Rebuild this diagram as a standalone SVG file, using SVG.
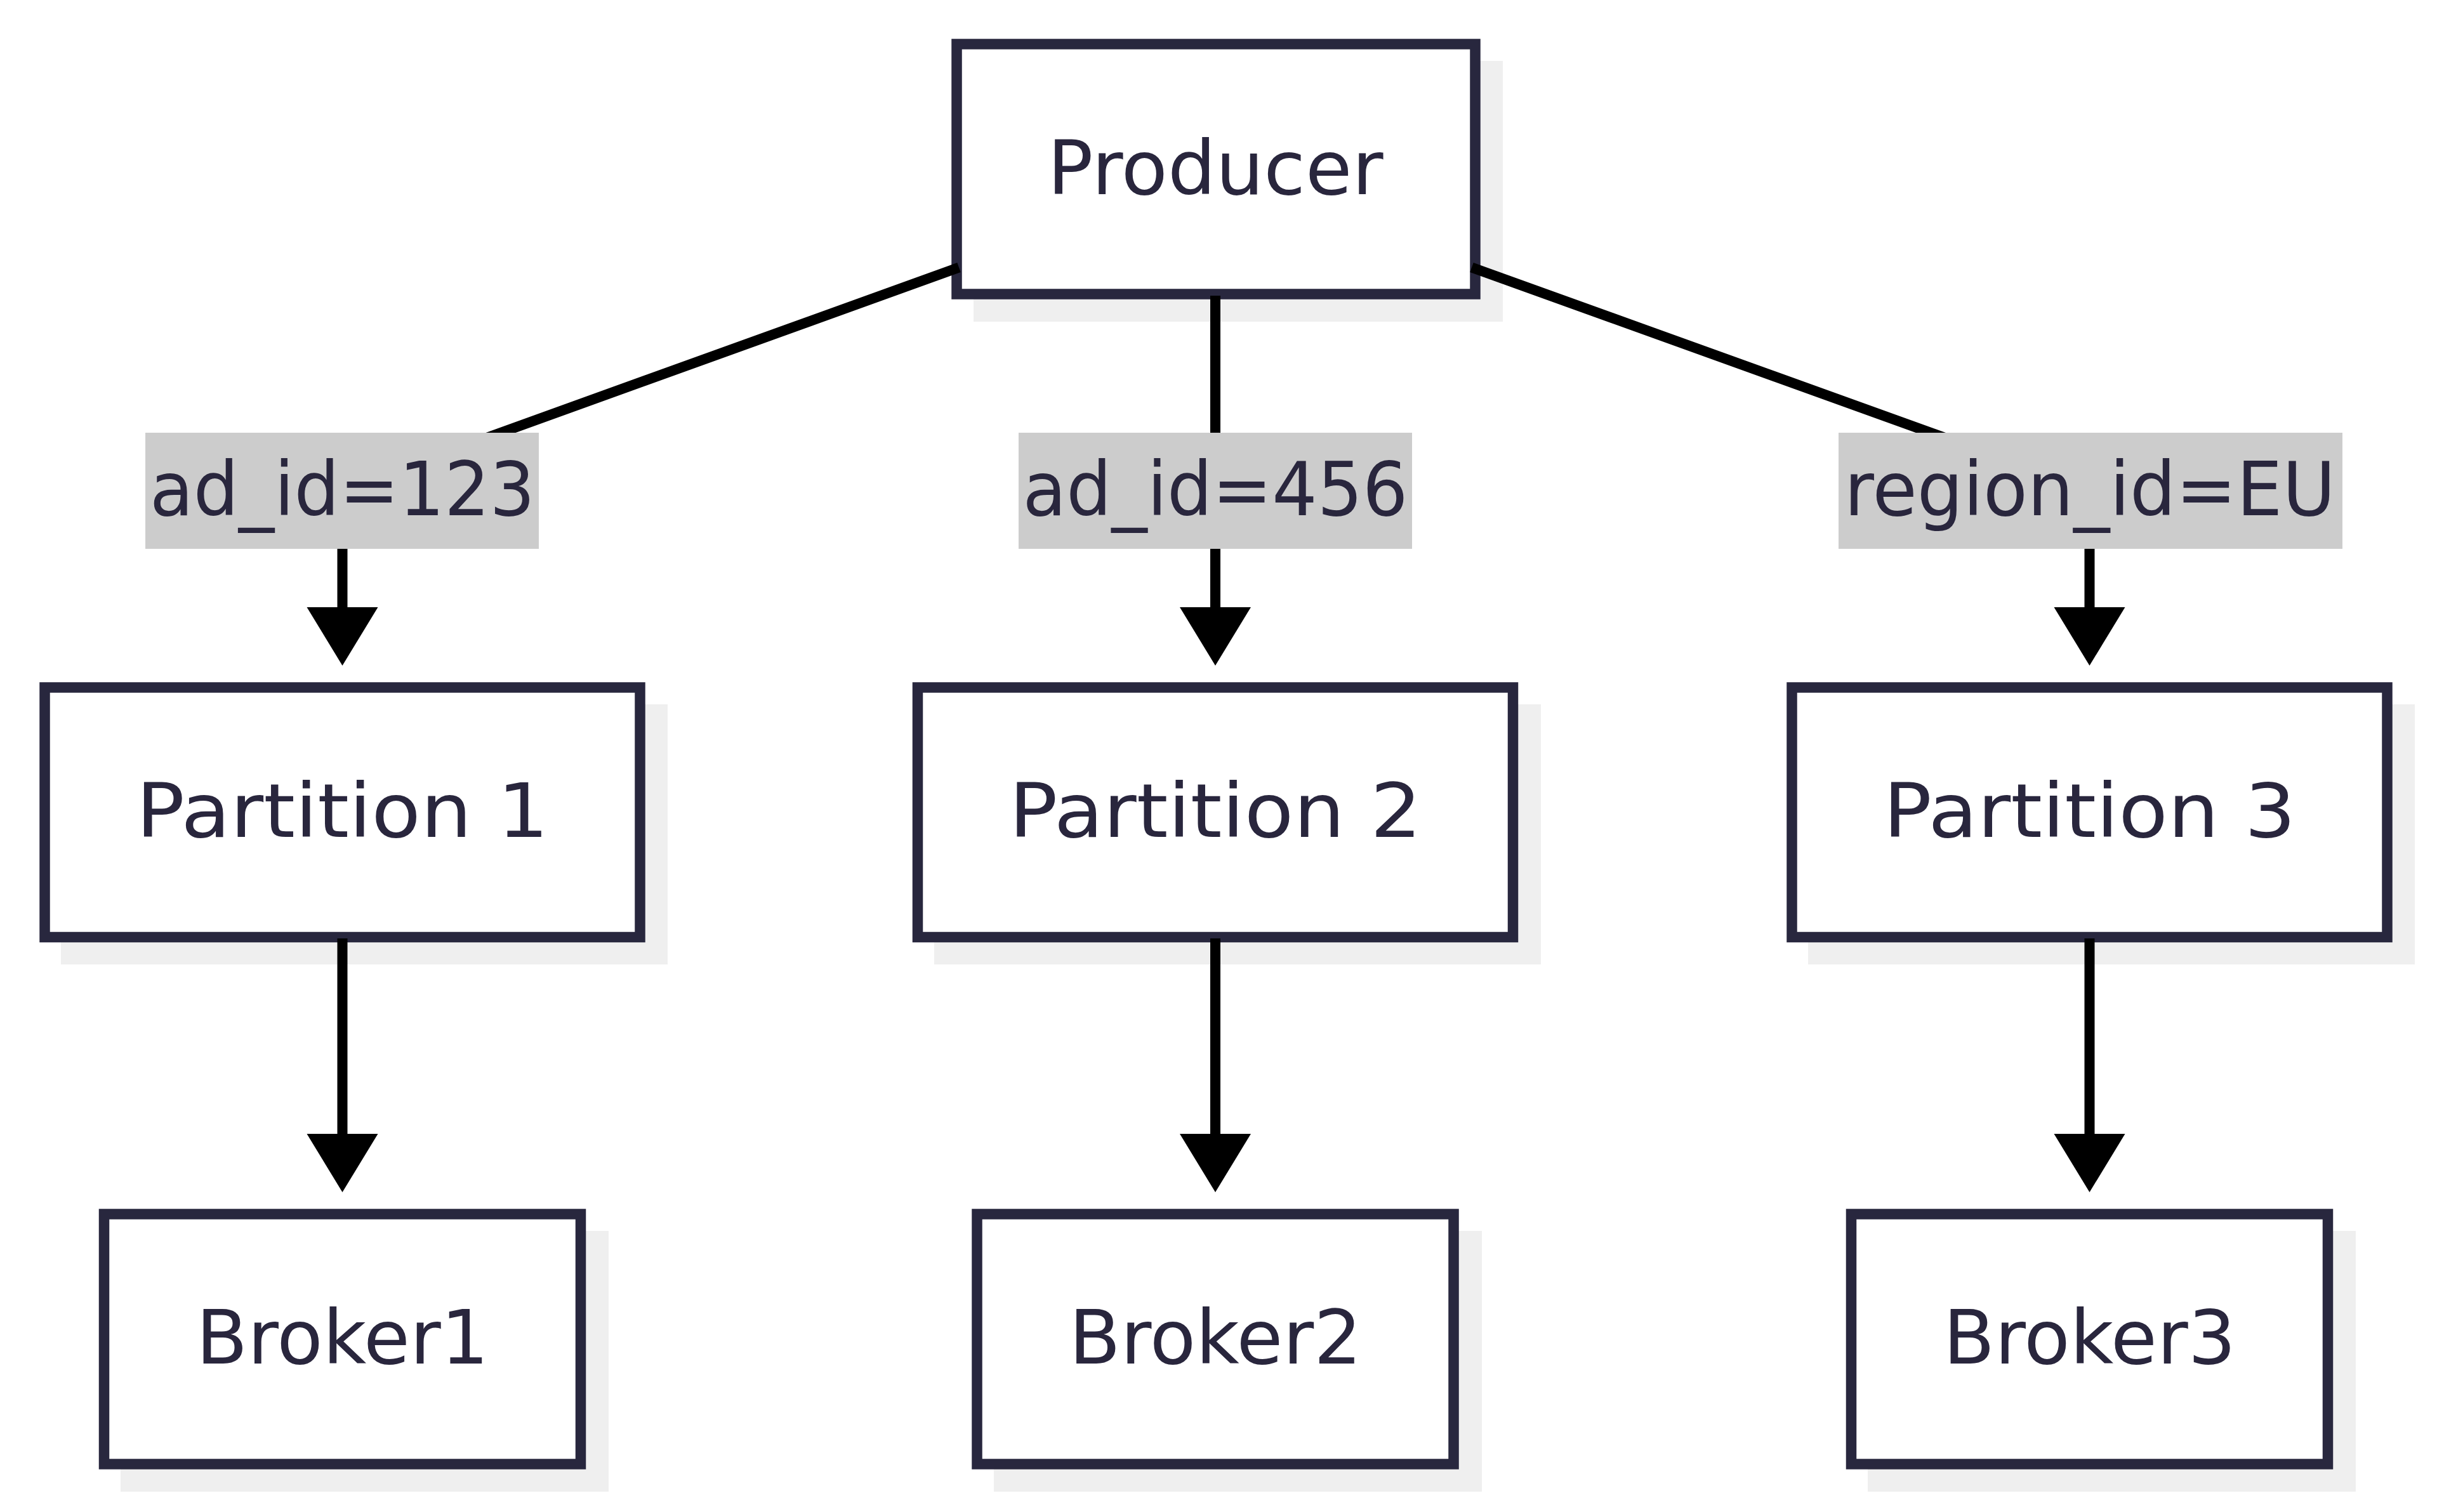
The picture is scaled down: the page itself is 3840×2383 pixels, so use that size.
<svg xmlns="http://www.w3.org/2000/svg" width="3840" height="2383" viewBox="0 0 3840 2383">
<defs>
<style>
.shadow{fill:#efefef;stroke:none}
.box{fill:#ffffff;stroke:#28273e;stroke-width:16.5}
.txt{font-family:"DejaVu Sans","Liberation Sans",sans-serif;font-size:118px;fill:#29263d;text-anchor:middle}
.lbl{fill:#cccccc;stroke:none}
.edge{fill:none;stroke:#000000;stroke-width:16}
.head{fill:#000000;stroke:none}
</style>
</defs>
<rect width="3840" height="2383" fill="#ffffff"/>
<g id="producer">
<rect class="shadow" x="1534" y="96" width="834" height="411"/>
<rect class="box" x="1507.5" y="69.5" width="817" height="394"/>
<text class="txt" x="1915" y="306" textLength="529" lengthAdjust="spacingAndGlyphs">Producer</text>
</g>
<g id="partition1">
<rect class="shadow" x="96" y="1110" width="956" height="410"/>
<rect class="box" x="70.5" y="1083.5" width="938" height="393.5"/>
<text class="txt" x="539.5" y="1319" textLength="650" lengthAdjust="spacingAndGlyphs">Partition 1</text>
</g>
<g id="partition2">
<rect class="shadow" x="1472" y="1110" width="956" height="410"/>
<rect class="box" x="1446" y="1083.5" width="938" height="393.5"/>
<text class="txt" x="1915" y="1319" textLength="650" lengthAdjust="spacingAndGlyphs">Partition 2</text>
</g>
<g id="partition3">
<rect class="shadow" x="2849" y="1110" width="956" height="410"/>
<rect class="box" x="2823.5" y="1083.5" width="938" height="393.5"/>
<text class="txt" x="3292.5" y="1319" textLength="650" lengthAdjust="spacingAndGlyphs">Partition 3</text>
</g>
<g id="broker1">
<rect class="shadow" x="190" y="1940" width="769" height="411"/>
<rect class="box" x="164" y="1913.5" width="751" height="394"/>
<text class="txt" x="539.5" y="2149" textLength="461" lengthAdjust="spacingAndGlyphs">Broker1</text>
</g>
<g id="broker2">
<rect class="shadow" x="1566" y="1940" width="769" height="411"/>
<rect class="box" x="1539.5" y="1913.5" width="751" height="394"/>
<text class="txt" x="1915" y="2149" textLength="461" lengthAdjust="spacingAndGlyphs">Broker2</text>
</g>
<g id="broker3">
<rect class="shadow" x="2943" y="1940" width="769" height="411"/>
<rect class="box" x="2917" y="1913.5" width="751" height="394"/>
<text class="txt" x="3292.5" y="2149" textLength="461" lengthAdjust="spacingAndGlyphs">Broker3</text>
</g>
<g id="connectors">
<path class="edge" d="M1511,421.5 L539.5,772 L539.5,960"/>
<path class="edge" d="M1915,466 L1915,960"/>
<path class="edge" d="M2319,421.5 L3292.5,772 L3292.5,960"/>
<path class="edge" d="M539.5,1479 L539.5,1790"/>
<path class="edge" d="M1915,1479 L1915,1790"/>
<path class="edge" d="M3292.5,1479 L3292.5,1790"/>
<polygon class="head" points="483.5,957 595.5,957 539.5,1049"/>
<polygon class="head" points="1859,957 1971,957 1915,1049"/>
<polygon class="head" points="3236.5,957 3348.5,957 3292.5,1049"/>
<polygon class="head" points="483.5,1787 595.5,1787 539.5,1879"/>
<polygon class="head" points="1859,1787 1971,1787 1915,1879"/>
<polygon class="head" points="3236.5,1787 3348.5,1787 3292.5,1879"/>
<g id="label-ad123">
<rect class="lbl" x="229" y="682" width="620" height="183"/>
<text class="txt" x="539.5" y="812" textLength="607" lengthAdjust="spacingAndGlyphs">ad_id=123</text>
</g>
<g id="label-ad456">
<rect class="lbl" x="1605" y="682" width="620" height="183"/>
<text class="txt" x="1915" y="812" textLength="607" lengthAdjust="spacingAndGlyphs">ad_id=456</text>
</g>
<g id="label-region">
<rect class="lbl" x="2897" y="682" width="794" height="183"/>
<text class="txt" x="3293" y="812" textLength="774" lengthAdjust="spacingAndGlyphs">region_id=EU</text>
</g>
</g>
</svg>
